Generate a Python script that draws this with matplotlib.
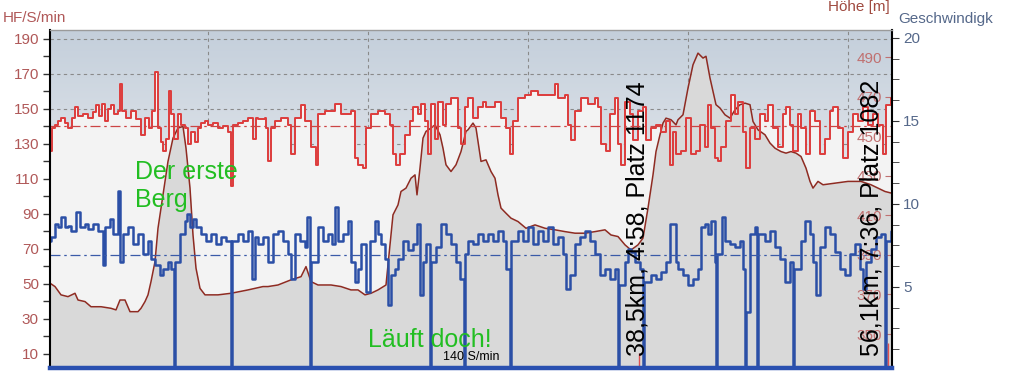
import numpy as np
import matplotlib.pyplot as plt
from matplotlib.colors import LinearSegmentedColormap
from matplotlib.ticker import MultipleLocator

plt.rcParams['font.family'] = ['Liberation Sans', 'DejaVu Sans']

# x = Position im Diagramm (Bildspalten ab Diagrammanfang)
hf_x = [2, 4, 7, 10, 13, 17, 20, 24, 27, 30, 35, 40, 45, 48, 51, 54, 57, 60, 63, 66,
        70, 72, 74, 78, 83, 88, 93, 97, 101, 104, 107, 110, 113, 115, 118, 121, 123, 126, 130, 133,
        137, 140, 143, 147, 150, 153, 157, 160, 165, 170, 175, 180, 183, 185, 190, 195, 200, 205, 208,
        210, 217, 218, 220, 223, 227, 233, 240, 243, 247, 253, 257, 263, 268, 270, 277, 287, 293, 303, 307,
        310, 315, 318, 323, 330, 337, 342, 345, 348, 352, 357, 362, 365, 370, 373, 377, 380, 383, 387, 390,
        395, 398, 403, 410, 413, 417,
        420, 425, 430, 435, 438, 447, 453, 458, 462, 465, 470, 477, 483, 490, 500, 507, 510, 517, 520, 523,
        527, 533, 540, 547, 550, 553, 558, 562, 567, 570, 573, 577, 582, 585, 590, 595, 598, 603, 608, 613,
        618, 622, 625, 628,
        633, 638, 643, 648, 652, 657, 660, 663, 667, 670, 673, 678, 683, 687, 690, 695, 698, 702, 707, 712,
        717, 720, 725, 730, 735, 738, 742, 745, 750, 753, 758, 762, 767, 772, 777, 782, 785, 790, 795, 800,
        805, 810, 815, 820, 825, 830, 835, 838, 843, 844]
hf = [126, 139, 141, 143, 145, 142, 139, 145, 151, 146, 147, 145, 148, 152, 146, 153, 143, 150, 152, 147,
      149, 164, 149, 145, 149, 144, 135, 145, 139, 149, 171, 139, 131, 126, 133, 160, 147, 133, 147, 141,
      139, 130, 137, 131, 139, 142, 143, 141, 142, 139, 140, 137, 106, 141, 142, 143, 145, 133, 145,
      144, 145, 139, 120, 139, 143, 145, 141, 124, 145, 152, 143, 128, 118, 147, 149, 153, 147, 149, 122,
      118, 116, 139, 147, 149, 147, 141, 124, 118, 124, 135, 143, 151, 147, 153, 143, 124, 153, 133, 154,
      141, 153, 156, 139, 130, 151,
      156, 145, 151, 154, 151, 154, 145, 139, 124, 143, 156, 158, 160, 158, 158, 164, 156, 158, 141, 132,
      149, 156, 153, 156, 151, 130, 126, 147, 156, 130, 118, 154, 147, 132, 149, 151, 132, 139, 141, 137,
      143, 118, 137, 124,
      126, 145, 124, 126, 141, 128, 152, 139, 122, 120, 128, 143, 158, 147, 154, 137, 116, 139, 133, 147,
      143, 152, 139, 128, 147, 151, 141, 126, 147, 139, 124, 149, 143, 124, 133, 149, 151, 139, 122, 137,
      147, 143, 151, 141, 147, 141, 124, 152, 156, 156]

hoehe_x = [2, 7, 13, 20, 27, 30, 37, 43, 53, 63, 68, 72, 77, 82, 90, 93, 97, 100, 103, 107,
           110, 115, 120, 125, 130, 135, 138, 142, 145, 148, 152, 157, 170, 183, 200, 215,
           220, 230, 243, 253, 258, 263, 270, 283, 293, 303, 310, 317, 323, 330, 338, 342, 345, 350, 353, 358,
           363, 367, 369, 372, 375, 378, 383, 387, 392, 395, 398, 403, 408, 413, 418,
           420, 425, 428, 433, 438, 443, 447, 450, 453, 458, 463, 470, 478, 487, 497, 507, 517, 527, 537, 547,
           557, 563, 570, 577, 583, 590, 595, 600, 605, 608, 612, 615, 618, 623, 628,
           630, 635, 640, 645, 650, 655, 658, 662, 665, 668, 672, 677, 682, 687, 692, 697, 702, 705, 710, 717,
           722, 727, 733, 738, 743, 748, 753, 758, 762, 765, 770, 775, 787, 800, 813, 823, 830, 837, 844]
hoehe = [375.7, 374.0, 369.8, 368.9, 370.6, 367.2, 366.4, 363.8, 363.8, 363.0, 362.2, 367.2, 367.2, 361.3,
         361.3, 363.0, 366.4, 369.8, 376.5, 386.6, 403.5, 420.4, 437.3, 449.1, 454.2, 455.0, 444.0, 423.8,
         400.1, 383.3, 373.1, 369.8, 369.8, 370.6, 372.3, 374.0,
         374.0, 374.8, 377.4, 379.0, 384.1, 376.5, 374.8, 374.8, 374.0, 372.3, 372.3, 369.8, 370.6, 372.3,
         374.8, 395.1, 410.3, 415.3, 422.1, 423.8, 428.8, 430.5, 420.4, 433.9, 449.1, 452.5, 454.2, 455.8,
         450.8, 444.0, 435.6, 432.2, 435.6, 442.3, 452.5,
         453.3, 456.7, 454.2, 437.3, 438.1, 432.2, 428.8, 420.4, 413.7, 411.1, 408.6, 406.9, 403.5, 405.2,
         403.5, 402.7, 401.8, 401.0, 401.0, 401.8, 402.7, 400.1, 399.3, 395.1, 392.5, 395.1, 398.5, 413.7,
         430.5, 442.3, 450.8, 456.7, 459.2, 458.4, 455.8,
         458.4, 460.9, 474.4, 486.2, 492.1, 489.6, 490.5, 479.5, 472.7, 466.0, 464.3, 460.9, 459.2, 463.4,
         466.0, 466.8, 466.0, 457.5, 453.3, 450.8, 446.6, 444.0, 442.3, 441.5, 442.3, 441.5, 439.8, 433.9,
         427.2, 423.8, 427.2, 425.5, 426.3, 427.2, 427.2, 425.5, 423.8, 422.1, 421.2]

tempo_x = [2, 3, 7, 10, 13, 17, 20, 23, 28, 32, 37, 40, 45, 50, 55, 57, 62, 65, 70, 72,
           75, 80, 85, 90, 95, 100, 103, 107, 112, 115, 120, 123, 126, 127, 132, 137, 139, 142, 145, 148,
           153, 158, 163, 168, 173, 178, 183, 184, 190, 195, 200, 204, 207,
           210, 215, 220, 225, 230, 235, 240, 243, 247, 252, 257, 259, 262, 263, 270, 275, 280, 284, 287, 290,
           295, 300, 303, 307, 310, 313, 318, 322, 327, 330, 333, 337, 340, 343, 347, 350, 355, 360, 365, 369,
           372, 375, 378, 382, 383, 388, 393, 398, 403, 408, 412, 416, 417,
           420, 425, 430, 435, 440, 445, 450, 455, 458, 462, 463, 470, 475, 480, 485, 490, 495, 500, 505, 510,
           515, 518, 522, 527, 532, 537, 542, 547, 552, 557, 562, 567, 570, 571, 577, 580, 583, 587, 592, 595,
           596, 603, 608, 613, 618, 622, 625, 628,
           630, 635, 640, 645, 650, 653, 657, 660, 663, 667, 668, 669, 674, 677, 682, 687, 692, 695, 697, 698,
           702, 707, 709, 710, 717, 722, 727, 732, 737, 742, 745, 746, 753, 757, 762, 765, 768, 772, 777, 782,
           787, 792, 797, 802, 807, 812, 815, 818, 823, 828, 833, 837, 838, 843, 844]
tempo = [7.8, 8.0, 8.8, 8.6, 9.2, 8.6, 8.7, 8.4, 9.5, 8.6, 8.8, 8.5, 8.8, 8.4, 6.3, 8.6, 9.1, 8.2, 10.8, 6.5,
         8.2, 8.6, 7.6, 8.2, 7.0, 7.8, 6.7, 6.3, 5.7, 6.1, 6.5, 6.1, 0, 6.5, 8.2, 9.0, 9.4, 8.6, 9.1, 8.6,
         8.2, 7.8, 8.2, 7.6, 8.0, 7.8, 0, 7.8, 8.2, 7.8, 8.4, 5.5, 8.0,
         7.6, 8.0, 6.5, 8.2, 8.4, 7.8, 7.0, 5.5, 8.2, 7.8, 7.4, 9.2, 0, 6.5, 8.6, 7.8, 8.2, 7.6, 9.8, 7.8,
         8.2, 9.0, 6.5, 5.3, 6.1, 7.6, 4.7, 7.8, 9.0, 8.2, 7.6, 6.7, 3.9, 5.7, 6.1, 6.7, 7.8, 7.2, 7.6, 8.8,
         4.5, 6.5, 7.6, 0, 6.5, 7.4, 8.8, 8.2, 7.6, 6.5, 5.5, 0, 7.0,
         7.8, 7.6, 8.2, 7.8, 8.2, 7.8, 8.4, 7.8, 6.1, 0, 7.8, 8.4, 7.8, 8.6, 7.6, 8.4, 7.8, 8.6, 7.6, 8.0,
         7.0, 4.9, 5.7, 7.6, 8.0, 8.4, 7.8, 7.0, 5.7, 6.1, 5.5, 6.1, 0, 5.1, 6.5, 7.3, 7.1, 6.5, 6.1, 0,
         5.3, 5.7, 5.5, 5.9, 6.5, 8.8, 8.8, 6.5,
         6.1, 5.7, 5.1, 5.5, 6.1, 8.6, 8.8, 8.2, 9.0, 6.5, 0, 7.0, 9.2, 7.8, 7.6, 7.4, 7.8, 6.1, 0, 3.5,
         8.2, 8.6, 0, 8.2, 7.8, 8.4, 7.4, 6.7, 5.3, 6.5, 0, 6.1, 7.8, 9.0, 8.2, 6.5, 4.5, 7.4, 8.6, 8.2,
         7.1, 6.1, 5.7, 7.0, 7.6, 6.1, 4.9, 6.5, 7.3, 8.0, 8.2, 0, 7.8, 8.4, 8.4]

hf_mittel = 140
tempo_mittel = 6.9
marker_x = [591, 840]
marker_hoch = [1.0, 1.6]

gruen = '#22be22'

fig = plt.figure(figsize=(10.18, 3.88), dpi=100)
ax = fig.add_axes([50 / 1018, 20 / 388, 842 / 1018, 338 / 388])

# Hintergrund-Verlauf
bg = LinearSegmentedColormap.from_list('bg', [(0, '#f2f2f2'), (0.4, '#f0f0f1'), (0.55, '#e6e9ed'),
                                              (0.72, '#d6dde5'), (1, '#c4cfdb')])
ax.imshow(np.linspace(1, 0, 256).reshape(-1, 1), cmap=bg, aspect='auto',
          extent=[0, 1, 0, 1], transform=ax.transAxes, zorder=0)
ax.fill_between(hf_x, hf, 0, step='post', color='#f3f3f3', lw=0, zorder=1)
ax.set_xlim(2, 844)
ax.set_ylim(2, 195)
ax.set_axisbelow(True)
ax.xaxis.set_major_locator(MultipleLocator(160))
ax.set_yticks(range(10, 191, 20))
ax.set_yticks(range(20, 190, 20), minor=True)
ax.grid(True, color='#8a8a8a', linestyle=(0, (3, 3)), linewidth=0.8)
ax.tick_params(axis='x', length=0, labelbottom=False)
ax.tick_params(axis='y', which='both', length=5, width=1, color='#333333',
               labelcolor='#b05858', labelsize=11, pad=3)
for s in ax.spines.values():
    s.set_visible(False)

# Hoehe
axh = ax.twinx()
axh.fill_between(hoehe_x, hoehe, 300, color='#d9d9d9', lw=0)
axh.plot(hoehe_x, hoehe, color='#8e2b22', lw=1.1)
axh.set_ylim(332.8, 503.8)
axh.set_yticks(range(350, 491, 20))
axh.tick_params(axis='y', direction='in', length=5, pad=-7, color='#c07070',
                labelcolor='#c07070', labelsize=11)
for lab in axh.get_yticklabels():
    lab.set_ha('right')
for s in axh.spines.values():
    s.set_visible(False)

# Herzfrequenz
axr = ax.twinx()
axr.plot(hf_x, hf, drawstyle='steps-post', color='#dd3c3c', lw=1.4)
axr.axhline(hf_mittel, color='#cc4444', lw=0.9, ls=(0, (8, 3, 2, 3)))
axr.set_ylim(2, 195)
axr.set_yticks([])
for s in axr.spines.values():
    s.set_visible(False)

# Geschwindigkeit
axs = ax.twinx()
axs.plot(tempo_x, tempo, drawstyle='steps-post', color='#2b4fa6', lw=1.8)
axs.axhline(tempo_mittel, color='#3a5aa8', lw=0.9, ls=(0, (8, 3, 2, 3)))
axs.vlines(marker_x, 0.12, marker_hoch, color='#e05050', lw=1)
axs.set_ylim(0.12, 20.48)
axs.set_xlim(2, 844)
axs.set_yticks([5, 10, 15, 20])
axs.yaxis.set_minor_locator(MultipleLocator(1.25))
axs.tick_params(axis='y', which='both', length=5, color='#333333',
                labelcolor='#55688a', labelsize=11, pad=3)
axs.spines['right'].set_color('black')
axs.spines['right'].set_linewidth(1.5)
axs.spines['left'].set_color('black')
axs.spines['left'].set_linewidth(1.5)
axs.spines['top'].set_color('#9a9a9a')
axs.spines['top'].set_linewidth(1)
axs.spines['bottom'].set_color('#2a50b0')
axs.spines['bottom'].set_linewidth(3.2)

axs.text(87, 11.1, 'Der erste\nBerg', color=gruen, fontsize=18, va='center', ha='left')
axs.text(320, 1.39, 'Läuft doch!', color=gruen, fontsize=18, va='baseline', ha='left')
axs.text(395, 0.78, '140 S/min', color='black', fontsize=9, va='center', ha='left')
axs.text(590, 0.84, '38,5km, 4:58, Platz 1174', rotation=90, fontsize=18,
         ha='center', va='bottom', color='black')
axs.text(824, 0.84, '56,1km, 7:36, Platz 1082', rotation=90, fontsize=18,
         ha='center', va='bottom', color='black')

fig.text(3 / 1018, 1 - 18 / 388, 'HF/S/min', color='#b05858', fontsize=11, va='center')
fig.text(828 / 1018, 1 - 11 / 388, 'Höhe [m]', color='#a04a40', fontsize=11, va='baseline')
fig.text(898 / 1018, 1 - 19 / 388, 'Geschwindigk', color='#55688a', fontsize=11, va='center')

fig.savefig('out.png', dpi=100)
